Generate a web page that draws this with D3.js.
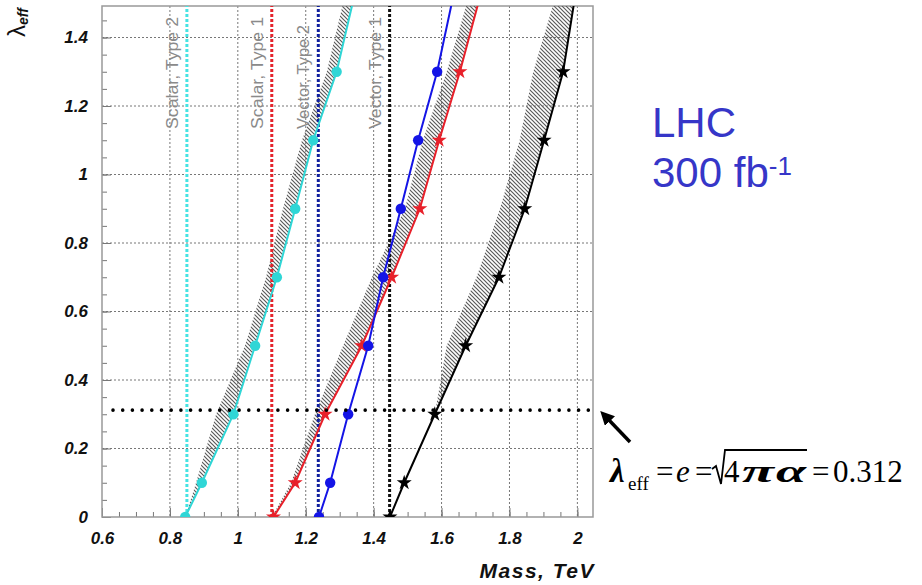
<html>
  <head>
    <style>
      body { margin: 0; background: #fff; }
      .tick text { font-family: "Liberation Sans", Arial, sans-serif; font-weight: bold; font-style: italic; font-size: 17px; fill: #111; }
      .tick line { stroke: #777; stroke-width: 1; }
      .domain { display: none; }
    </style>
  </head>
  <body>
    <script src="https://d3js.org/d3.v7.min.js"></script>
    <script>
      var width = 922, height = 585;

      // lambda_eff values where the curves are sampled (1.5 = line end above the frame)
      var lambda = [0, 0.1, 0.3, 0.5, 0.7, 0.9, 1.1, 1.3, 1.5];
      // reach in mass (TeV) for each model
      var scalarType2 = [0.845, 0.894, 0.987, 1.051, 1.115, 1.169, 1.222, 1.291, 1.338];
      var scalarType1 = [1.105, 1.169, 1.257, 1.365, 1.453, 1.536, 1.593, 1.654, 1.708];
      var vectorType2 = [1.239, 1.272, 1.325, 1.384, 1.428, 1.480, 1.531, 1.587, 1.630];
      var vectorType1 = [1.448, 1.490, 1.580, 1.671, 1.769, 1.845, 1.902, 1.958, 1.990];
      // left edges of the hatched bands (right edge = curve)
      var bandScalar2 = [0.845, 0.877, 0.936, 1.021, 1.083, 1.133, 1.189, 1.262, 1.310];
      var bandScalar1 = [1.100, 1.157, 1.227, 1.310, 1.395, 1.492, 1.545, 1.615, 1.675];
      var bandVector1 = [null, null, 1.580, 1.615, 1.703, 1.772, 1.830, 1.870, 1.930];
      // vertical limits
      var limitNames = ["Scalar, Type 2", "Scalar, Type 1", "Vector, Type 2", "Vector, Type 1"];
      var limitMass = [0.85, 1.10, 1.237, 1.447];
      var limitColors = ["#45e3e3", "#e4232b", "#10209e", "#111111"];
      var lambdaRef = 0.312;

      var xTicks = [0.6, 0.8, 1, 1.2, 1.4, 1.6, 1.8, 2];
      var yTicks = [0, 0.2, 0.4, 0.6, 0.8, 1, 1.2, 1.4];

      var plotL = 102, plotR = 593, plotT = 6, plotB = 517;

      var x = d3.scaleLinear().domain([0.6, 2.046]).range([plotL, plotR]);
      var y = d3.scaleLinear().domain([0, 1.492]).range([plotB, plotT]);

      var svg = d3.select("body").append("svg")
          .attr("width", width)
          .attr("height", height);

      var defs = svg.append("defs");
      defs.append("clipPath").attr("id", "plot-clip")
        .append("rect")
          .attr("x", plotL).attr("y", plotT)
          .attr("width", plotR - plotL).attr("height", plotB - plotT);

      var hatch = defs.append("pattern")
          .attr("id", "hatch")
          .attr("patternUnits", "userSpaceOnUse")
          .attr("width", 4).attr("height", 4);
      hatch.append("path")
          .attr("d", "M-1,3 l2,2 M0,0 l4,4 M3,-1 l2,2")
          .attr("stroke", "#5a5a5a")
          .attr("stroke-width", 1.2);

      // grid
      var grid = svg.append("g");
      grid.selectAll(".gx")
          .data(xTicks.slice(1))
        .enter().append("line")
          .attr("x1", function(d){ return x(d); })
          .attr("x2", function(d){ return x(d); })
          .attr("y1", plotT).attr("y2", plotB)
          .attr("stroke", "#777").attr("stroke-width", 1)
          .attr("stroke-dasharray", "2,2");
      grid.selectAll(".gy")
          .data(yTicks.slice(1))
        .enter().append("line")
          .attr("y1", function(d){ return y(d); })
          .attr("y2", function(d){ return y(d); })
          .attr("x1", plotL).attr("x2", plotR)
          .attr("stroke", "#777").attr("stroke-width", 1)
          .attr("stroke-dasharray", "2,2");

      // axes (inward ticks)
      var minorX = d3.range(0, 29).map(function(i){ return 0.6 + i * 0.05; });
      var minorY = d3.range(0, 30).map(function(i){ return i * 0.05; });
      var fmt = d3.format("~g");

      svg.append("g").attr("transform", "translate(0," + plotB + ")")
          .call(d3.axisBottom(x).tickValues(minorX).tickSize(-5).tickFormat(""));
      svg.append("g").attr("transform", "translate(0," + plotB + ")")
          .call(d3.axisBottom(x).tickValues(xTicks).tickSize(-9).tickPadding(15).tickFormat(fmt));
      svg.append("g").attr("transform", "translate(" + plotL + ",0)")
          .call(d3.axisLeft(y).tickValues(minorY).tickSize(-5).tickFormat(""));
      svg.append("g").attr("transform", "translate(" + plotL + ",0)")
          .call(d3.axisLeft(y).tickValues(yTicks).tickSize(-9).tickPadding(14).tickFormat(fmt));

      // frame
      svg.append("rect")
          .attr("x", plotL).attr("y", plotT)
          .attr("width", plotR - plotL).attr("height", plotB - plotT)
          .attr("fill", "none").attr("stroke", "#999").attr("stroke-width", 1.5);

      var plot = svg.append("g").attr("clip-path", "url(#plot-clip)");

      // hatched bands
      function band(edge, curve) {
        var rows = lambda.map(function(l, i){ return { l: l, x0: edge[i], x1: curve[i] }; });
        return d3.area()
            .defined(function(d){ return d.x0 != null; })
            .y(function(d){ return y(d.l); })
            .x0(function(d){ return x(d.x0); })
            .x1(function(d){ return x(d.x1); })(rows);
      }
      [[bandScalar2, scalarType2], [bandScalar1, scalarType1], [bandVector1, vectorType1]].forEach(function(b){
        plot.append("path")
            .attr("d", band(b[0], b[1]))
            .attr("fill", "url(#hatch)");
      });

      // vertical limit lines
      plot.selectAll(".limit")
          .data(limitMass)
        .enter().append("line")
          .attr("x1", function(d){ return x(d); })
          .attr("x2", function(d){ return x(d); })
          .attr("y1", y(0)).attr("y2", plotT)
          .attr("stroke", function(d, i){ return limitColors[i]; })
          .attr("stroke-width", 3)
          .attr("stroke-dasharray", "3,2");

      svg.selectAll(".limit-label")
          .data(limitNames)
        .enter().append("text")
          .attr("transform", function(d, i){ return "translate(" + (x(limitMass[i]) - 9) + ",129) rotate(-90)"; })
          .attr("font-family", "'Liberation Sans', Arial, sans-serif")
          .attr("font-size", 16.5)
          .attr("textLength", function(d, i){ return i === 2 ? 104 : 112; })
          .attr("lengthAdjust", "spacingAndGlyphs")
          .attr("fill", "#8a8a8a")
          .text(function(d){ return d; });

      // horizontal reference line lambda = e
      svg.append("line")
          .attr("x1", 113).attr("x2", 590)
          .attr("y1", y(lambdaRef)).attr("y2", y(lambdaRef))
          .attr("stroke", "#000").attr("stroke-width", 3.6)
          .attr("stroke-linecap", "round")
          .attr("stroke-dasharray", "0,9.7");

      // curves
      var series = [
        { v: scalarType2, color: "#2fd6d6", marker: "circle" },
        { v: scalarType1, color: "#e8202a", marker: "star" },
        { v: vectorType2, color: "#1414e6", marker: "circle" },
        { v: vectorType1, color: "#000000", marker: "star" }
      ];
      var line = d3.line()
          .x(function(d){ return x(d.m); })
          .y(function(d){ return y(d.l); });

      series.forEach(function(s){
        var rows = lambda.map(function(l, i){ return { l: l, m: s.v[i] }; });
        plot.append("path")
            .attr("d", line(rows))
            .attr("fill", "none")
            .attr("stroke", s.color)
            .attr("stroke-width", 2);
        var sym = d3.symbol()
            .type(s.marker === "circle" ? d3.symbolCircle : d3.symbolStar)
            .size(s.marker === "circle" ? 85 : 70);
        plot.selectAll(null)
            .data(rows.filter(function(d){ return d.l <= 1.3; }))
          .enter().append("path")
            .attr("transform", function(d){ return "translate(" + x(d.m) + "," + y(d.l) + ")"; })
            .attr("d", sym)
            .attr("fill", s.color);
      });

      // axis titles
      var yTitle = svg.append("text")
          .attr("transform", "translate(25,37) rotate(-90)")
          .attr("font-family", "'Liberation Sans', Arial, sans-serif")
          .attr("fill", "#111");
      yTitle.append("tspan").attr("font-size", 24).text("λ");
      yTitle.append("tspan").attr("font-size", 14).attr("font-weight", "bold")
          .attr("font-style", "italic").attr("dy", 3).text("eff");

      svg.append("text")
          .attr("x", 595).attr("y", 578)
          .attr("text-anchor", "end")
          .attr("font-family", "'Liberation Sans', Arial, sans-serif")
          .attr("font-weight", "bold").attr("font-style", "italic")
          .attr("font-size", 21).attr("letter-spacing", 1.5)
          .attr("fill", "#111")
          .text("Mass, TeV");

      // LHC annotation
      var blue = "#3636c8";
      svg.append("text")
          .attr("x", 652).attr("y", 137)
          .attr("font-family", "'Liberation Sans', Arial, sans-serif")
          .attr("font-size", 42).attr("fill", blue)
          .text("LHC");
      var lumi = svg.append("text")
          .attr("x", 652).attr("y", 187)
          .attr("font-family", "'Liberation Sans', Arial, sans-serif")
          .attr("font-size", 42).attr("fill", blue);
      lumi.append("tspan").text("300 fb");
      lumi.append("tspan").attr("font-size", 26).attr("dy", -12).text("-1");

      // arrow
      defs.append("marker")
          .attr("id", "arrow")
          .attr("viewBox", "0 0 10 10")
          .attr("refX", 2).attr("refY", 5)
          .attr("markerWidth", 4).attr("markerHeight", 4)
          .attr("orient", "auto")
        .append("path").attr("d", "M0,0 L10,5 L0,10 z").attr("fill", "#000");
      svg.append("line")
          .attr("x1", 630).attr("y1", 442)
          .attr("x2", 608).attr("y2", 419)
          .attr("stroke", "#000").attr("stroke-width", 3.5)
          .attr("marker-end", "url(#arrow)");

      // formula
      var serif = "'Liberation Serif', 'Times New Roman', serif";
      var f = svg.append("g")
          .attr("font-family", serif)
          .attr("font-size", 31)
          .attr("fill", "#000");
      function piece(txt, px, py, opts) {
        var t = f.append("text").attr("x", px).attr("y", py).text(txt);
        if (opts) Object.keys(opts).forEach(function(k){ t.attr(k, opts[k]); });
        return t;
      }
      piece("λ", 610, 482, { "font-weight": "bold", "font-style": "italic", "font-size": 33 });
      piece("eff", 628, 490, { "font-size": 19 });
      piece("=", 656, 482);
      piece("e", 676, 482, { "font-style": "italic" });
      piece("=", 695, 482);
      piece("4", 724, 482);
      piece("π", 742, 482, { "font-weight": "bold", "font-style": "italic", "textLength": 32, "lengthAdjust": "spacingAndGlyphs" });
      piece("α", 776, 482, { "font-weight": "bold", "font-style": "italic", "textLength": 30, "lengthAdjust": "spacingAndGlyphs" });
      piece("=", 812, 482);
      piece("0.312", 833, 482);
      f.append("path")
          .attr("d", "M712,469 L716,466 L721,484 L725,450 L807,450")
          .attr("fill", "none").attr("stroke", "#000").attr("stroke-width", 1.8);
    </script>
  </body>
</html>
